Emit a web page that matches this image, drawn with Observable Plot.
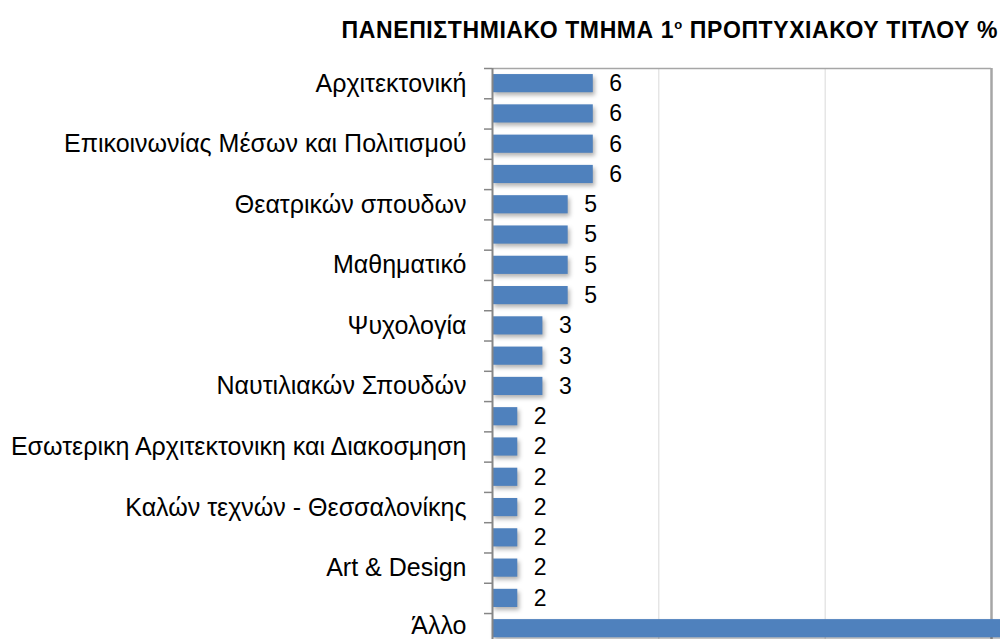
<!DOCTYPE html>
<html>
<head>
<meta charset="utf-8">
<script src="https://cdn.jsdelivr.net/npm/d3@7"></script>
<script src="https://cdn.jsdelivr.net/npm/@observablehq/plot@0.6"></script>
<style>
  html, body { margin: 0; padding: 0; background: #fff; overflow: hidden; width: 1000px; height: 639px; }
  #title { height: 50px; box-sizing: border-box; padding-top: 17px; padding-right: 2px; text-align: right;
    font-family: "Liberation Sans", Arial, sans-serif; font-weight: bold; font-size: 23px; line-height: 26px; color: #000; white-space: nowrap; letter-spacing: 0.6px; }
  #title sup { font-size: 13px; line-height: 0; vertical-align: 9px; }
  #chart svg { display: block; overflow: hidden; }
</style>
</head>
<body>
<div id="title">ΠΑΝΕΠΙΣΤΗΜΙΑΚΟ ΤΜΗΜΑ 1<sup>ο</sup> ΠΡΟΠΤΥΧΙΑΚΟΥ ΤΙΤΛΟΥ %</div>
<div id="chart"></div>
<script>
// Category labels (Excel shows only every other label; hidden ones are blank)
const categories = [
  "Αρχιτεκτονική", "", "Επικοινωνίας Μέσων και Πολιτισμού", "",
  "Θεατρικών σπουδων", "", "Μαθηματικό", "",
  "Ψυχολογία", "", "Ναυτιλιακών Σπουδών", "",
  "Εσωτερικη Αρχιτεκτονικη και Διακοσμηση", "", "Καλών τεχνών - Θεσσαλονίκης", "",
  "Art & Design", "", "Άλλο"
];
// Percent values (labels show them rounded); last bar runs past the visible area
const values = [6.06, 6.06, 6.06, 6.06, 4.55, 4.55, 4.55, 4.55, 3.03, 3.03, 3.03,
  1.52, 1.52, 1.52, 1.52, 1.52, 1.52, 1.52, 37.88];
const gridTicks = [10, 20];
const xMax = 30;

const data = values.map((v, i) => ({i, value: v, label: categories[i]}));
const n = categories.length;
const fmt = d3.format(".0f");
const last = data[n - 1];

const font = "'Liberation Sans', Arial, sans-serif";
const chart = Plot.plot({
  width: 1000,
  height: 589,
  marginTop: 18,
  marginBottom: 0,
  marginLeft: 492,
  marginRight: 9,
  style: {fontFamily: font, background: "#fff", overflow: "hidden"},
  x: {domain: [0, xMax], range: [492, 991], axis: null},
  y: {domain: [0, n], range: [18, 18 + n * 30.28], axis: null},
  marks: [
    Plot.ruleX(gridTicks, {stroke: "#d9d9d9", strokeWidth: 1}),
    Plot.ruleX([xMax], {stroke: "#a6a6a6", strokeWidth: 2.5}),
    Plot.ruleY([0], {stroke: "#a6a6a6", strokeWidth: 1.5}),
    Plot.rectX(data, {x1: 0, x2: "value", y1: d => d.i + 0.2, y2: d => d.i + 0.8, fill: "#4F81BD"}),
    Plot.ruleX([0], {y1: 0, y2: n, stroke: "#868686", strokeWidth: 2}),
    Plot.axisY(d3.range(n + 1), {tickSize: 8, tickFormat: () => "", stroke: "#868686", strokeWidth: 1.5}),
    Plot.axisY(d3.range(n - 1).map(i => i + 0.5), {tickSize: 0, tickPadding: 26, tickFormat: v => categories[Math.floor(v)], fontSize: 25, fill: "#000"}),
    Plot.text([last], {x: 0, y: d => d.i + 0.5, text: "label", textAnchor: "end", dx: -26, dy: -3, fontSize: 25, fill: "#000"}),
    Plot.text(data.filter(d => d.value <= xMax), {x: "value", y: d => d.i + 0.5, text: d => fmt(d.value), textAnchor: "start", dx: 16, fontSize: 23, fill: "#000"})
  ]
});
const rects = chart.querySelector('g[aria-label="rect"]');
if (rects) rects.style.filter = "drop-shadow(2px 3px 2px rgba(0,0,0,0.30))";
document.getElementById("chart").appendChild(chart);
</script>
</body>
</html>
